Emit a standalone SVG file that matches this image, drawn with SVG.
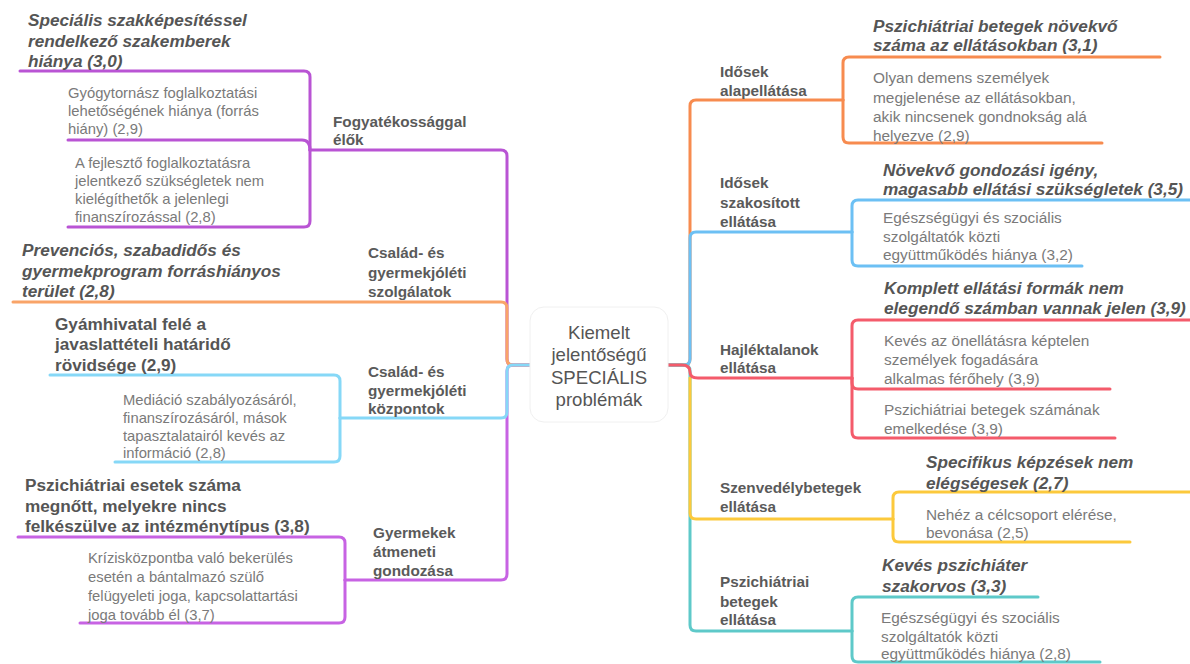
<svg xmlns="http://www.w3.org/2000/svg" width="1190" height="664" viewBox="0 0 1190 664">
<style>
.c{fill:none;stroke-width:3;stroke-linecap:round;stroke-linejoin:round}
.pu{stroke:#b954d4}.pu2{stroke:#c763e3}.ol{stroke:#f9a468}.or{stroke:#f78b4f}
.bl{stroke:#86d8f7}.br{stroke:#6cc0f4}.rd{stroke:#f45b6b}.ye{stroke:#fcc93c}.te{stroke:#5ec9c9}
text{font-family:"Liberation Sans",Arial,sans-serif}
.h{font-size:17.2px;font-weight:bold;font-style:italic;fill:#555}
.hb{font-size:17.2px;font-weight:bold;fill:#555}
.s{font-size:14.8px;fill:#7a7a7a}
.sr{font-size:15.4px;fill:#7a7a7a}
.k{font-size:15.3px;font-weight:bold;fill:#5a5a5a}
.m{font-size:18.6px;fill:#555;text-anchor:middle}
</style>
<rect width="1190" height="664" fill="#fff"/>
<g id="connectors">
<path class="c pu" d="M530,365 H513 Q507,365 507,359 V156 Q507,150 501,150 H310"/>
<path class="c pu" d="M310,150 V77 Q310,71 304,71 H20"/>
<path class="c pu" d="M310,150 Q310,140 302,140 H68"/>
<path class="c pu" d="M310,150 V221 Q310,227 304,227 H68"/>
<path class="c pu2" d="M530,365 H513 Q507,365 507,371 V574 Q507,580 501,580 H345"/>
<path class="c pu2" d="M345,580 V543 Q345,537 339,537 H18"/>
<path class="c pu2" d="M345,580 V617 Q345,623 339,623 H80"/>
<path class="c ol" d="M530,365 H513 Q507,365 507,359 V308 Q507,302 501,302 H13"/>
<path class="c bl" d="M530,365 H513 Q507,365 507,371 V412 Q507,418 501,418 H340"/>
<path class="c bl" d="M340,418 V381 Q340,375 334,375 H50"/>
<path class="c bl" d="M340,418 V456 Q340,462 334,462 H115"/>
<path class="c or" d="M668,365 H684 Q690,365 690,359 V106 Q690,100 696,100 H843"/>
<path class="c or" d="M843,100 V63 Q843,57 849,57 H1160"/>
<path class="c or" d="M843,100 V137 Q843,143 849,143 H1102"/>
<path class="c br" d="M668,365 H684 Q690,365 690,359 V238 Q690,232 696,232 H852"/>
<path class="c br" d="M852,232 V206 Q852,200 858,200 H1190"/>
<path class="c br" d="M852,232 V260 Q852,266 858,266 H1082"/>
<path class="c te" d="M668,365 H684 Q690,365 690,371 V625 Q690,631 696,631 H852"/>
<path class="c te" d="M852,631 V603 Q852,597 858,597 H1038"/>
<path class="c te" d="M852,631 V656 Q852,662 858,662 H1100"/>
<path class="c ye" d="M690,378 V513 Q690,519 696,519 H893"/>
<path class="c ye" d="M893,519 V498 Q893,492 899,492 H1190"/>
<path class="c ye" d="M893,519 V536 Q893,542 899,542 H1130"/>
<path class="c rd" d="M668,365 H682 Q690,365 690,372 Q690,378 698,378 H852"/>
<path class="c rd" d="M852,378 V326 Q852,320 858,320 H1190"/>
<path class="c rd" d="M852,378 V383 Q852,389 858,389 H1110"/>
<path class="c rd" d="M852,378 V432 Q852,438 858,438 H1115"/>
</g>
<g id="center">
<rect x="530" y="307" width="138" height="115" rx="14" fill="#fff" stroke="#f0f0f0" stroke-width="1"/>
<text class="m"><tspan x="599" y="339">Kiemelt</tspan><tspan x="599" y="361">jelentőségű</tspan><tspan x="599" y="384">SPECIÁLIS</tspan><tspan x="599" y="406">problémák</tspan></text>
</g>
<g id="n-fogy"><text class="k"><tspan x="333" y="127">Fogyatékossággal</tspan><tspan x="333" y="145">élők</tspan></text></g>
<g id="n-spec"><text class="h"><tspan x="28" y="26">Speciális szakképesítéssel</tspan><tspan x="28" y="47">rendelkező szakemberek</tspan><tspan x="28" y="67">hiánya (3,0)</tspan></text></g>
<g id="n-gyogy"><text class="s"><tspan x="68" y="98">Gyógytornász foglalkoztatási</tspan><tspan x="68" y="116">lehetőségének hiánya (forrás</tspan><tspan x="68" y="134">hiány) (2,9)</tspan></text></g>
<g id="n-fejl"><text class="s"><tspan x="75" y="168">A fejlesztő foglalkoztatásra</tspan><tspan x="75" y="186">jelentkező szükségletek nem</tspan><tspan x="75" y="204">kielégíthetők a jelenlegi</tspan><tspan x="75" y="222">finanszírozással (2,8)</tspan></text></g>
<g id="n-szolg"><text class="k"><tspan x="368" y="258">Család- és</tspan><tspan x="368" y="278">gyermekjóléti</tspan><tspan x="368" y="297">szolgálatok</tspan></text></g>
<g id="n-prev"><text class="h"><tspan x="22" y="256">Prevenciós, szabadidős és</tspan><tspan x="22" y="277">gyermekprogram forráshiányos</tspan><tspan x="22" y="297">terület (2,8)</tspan></text></g>
<g id="n-kozp"><text class="k"><tspan x="368" y="377">Család- és</tspan><tspan x="368" y="396">gyermekjóléti</tspan><tspan x="368" y="414">központok</tspan></text></g>
<g id="n-gyam"><text class="hb"><tspan x="55" y="330">Gyámhivatal felé a</tspan><tspan x="55" y="350">javaslattételi határidő</tspan><tspan x="55" y="371">rövidsége (2,9)</tspan></text></g>
<g id="n-med"><text class="s"><tspan x="123" y="405">Mediáció szabályozásáról,</tspan><tspan x="123" y="423">finanszírozásáról, mások</tspan><tspan x="123" y="441">tapasztalatairól kevés az</tspan><tspan x="123" y="458">információ (2,8)</tspan></text></g>
<g id="n-atm"><text class="k"><tspan x="373" y="538">Gyermekek</tspan><tspan x="373" y="557">átmeneti</tspan><tspan x="373" y="576">gondozása</tspan></text></g>
<g id="n-pszes"><text class="hb"><tspan x="25" y="491">Pszichiátriai esetek száma</tspan><tspan x="25" y="512">megnőtt, melyekre nincs</tspan><tspan x="25" y="532">felkészülve az intézménytípus (3,8)</tspan></text></g>
<g id="n-kriz"><text class="s"><tspan x="88" y="563">Krízisközpontba való bekerülés</tspan><tspan x="88" y="582">esetén a bántalmazó szülő</tspan><tspan x="88" y="601">felügyeleti joga, kapcsolattartási</tspan><tspan x="88" y="620">joga tovább él (3,7)</tspan></text></g>
<g id="n-alap"><text class="k"><tspan x="720" y="77">Idősek</tspan><tspan x="720" y="96">alapellátása</tspan></text></g>
<g id="n-pbn"><text class="h"><tspan x="873" y="32">Pszichiátriai betegek növekvő</tspan><tspan x="873" y="51">száma az ellátásokban (3,1)</tspan></text></g>
<g id="n-dem"><text class="sr"><tspan x="873" y="83">Olyan demens személyek</tspan><tspan x="873" y="103">megjelenése az ellátásokban,</tspan><tspan x="873" y="122">akik nincsenek gondnokság alá</tspan><tspan x="873" y="141">helyezve (2,9)</tspan></text></g>
<g id="n-szak"><text class="k"><tspan x="720" y="188">Idősek</tspan><tspan x="720" y="208">szakosított</tspan><tspan x="720" y="227">ellátása</tspan></text></g>
<g id="n-nov"><text class="h"><tspan x="883" y="176">Növekvő gondozási igény,</tspan><tspan x="883" y="195">magasabb ellátási szükségletek (3,5)</tspan></text></g>
<g id="n-egy1"><text class="sr"><tspan x="883" y="223">Egészségügyi és szociális</tspan><tspan x="883" y="242">szolgáltatók közti</tspan><tspan x="883" y="260">együttműködés hiánya (3,2)</tspan></text></g>
<g id="n-hajl"><text class="k"><tspan x="720" y="355">Hajléktalanok</tspan><tspan x="720" y="373">ellátása</tspan></text></g>
<g id="n-kompl"><text class="h"><tspan x="884" y="294">Komplett ellátási formák nem</tspan><tspan x="884" y="314">elegendő számban vannak jelen (3,9)</tspan></text></g>
<g id="n-keves"><text class="sr"><tspan x="884" y="346">Kevés az önellátásra képtelen</tspan><tspan x="884" y="365">személyek fogadására</tspan><tspan x="884" y="384">alkalmas férőhely (3,9)</tspan></text></g>
<g id="n-pszem"><text class="sr"><tspan x="884" y="415">Pszichiátriai betegek számának</tspan><tspan x="884" y="434">emelkedése (3,9)</tspan></text></g>
<g id="n-szenv"><text class="k"><tspan x="720" y="493">Szenvedélybetegek</tspan><tspan x="720" y="512">ellátása</tspan></text></g>
<g id="n-specif"><text class="h"><tspan x="926" y="468">Specifikus képzések nem</tspan><tspan x="926" y="489">elégségesek (2,7)</tspan></text></g>
<g id="n-nehez"><text class="sr"><tspan x="926" y="520">Nehéz a célcsoport elérése,</tspan><tspan x="926" y="538">bevonása (2,5)</tspan></text></g>
<g id="n-pbe"><text class="k"><tspan x="720" y="587">Pszichiátriai</tspan><tspan x="720" y="607">betegek</tspan><tspan x="720" y="625">ellátása</tspan></text></g>
<g id="n-kpsz"><text class="h"><tspan x="882" y="571">Kevés pszichiáter</tspan><tspan x="882" y="592">szakorvos (3,3)</tspan></text></g>
<g id="n-egy2"><text class="sr"><tspan x="881" y="623">Egészségügyi és szociális</tspan><tspan x="881" y="642">szolgáltatók közti</tspan><tspan x="881" y="659">együttműködés hiánya (2,8)</tspan></text></g>
</svg>
